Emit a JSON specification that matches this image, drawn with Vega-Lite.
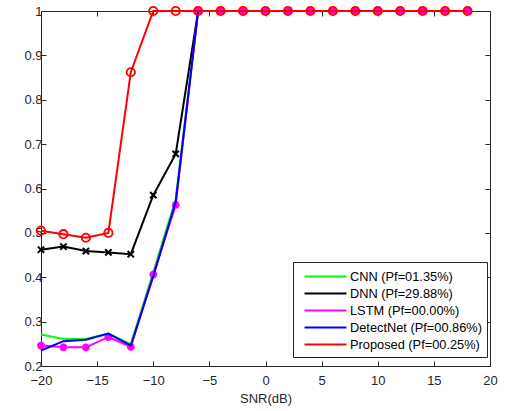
{
  "$schema": "https://vega.github.io/schema/vega-lite/v6.json",
  "width": 449,
  "height": 355,
  "padding": {"left": 5, "top": 2, "right": 15, "bottom": 2},
  "background": "white",
  "config": {
    "font": "Liberation Sans",
    "view": {"stroke": "#262626", "strokeWidth": 1},
    "axis": {"grid": false, "labelFont": "Liberation Sans", "titleFont": "Liberation Sans", "labelFontSize": 13, "titleFontSize": 13, "labelColor": "#262626", "titleColor": "#262626", "domainColor": "#262626", "tickColor": "#262626", "titleFontWeight": "normal", "labelFlush": false, "labelOverlap": false}
  },
  "data": {"values": [
    {"series": "CNN", "snr": -20, "pd": 0.271}, {"series": "CNN", "snr": -18, "pd": 0.261}, {"series": "CNN", "snr": -16, "pd": 0.261}, {"series": "CNN", "snr": -14, "pd": 0.273}, {"series": "CNN", "snr": -12, "pd": 0.249}, {"series": "CNN", "snr": -10, "pd": 0.412}, {"series": "CNN", "snr": -8, "pd": 0.576}, {"series": "CNN", "snr": -6, "pd": 1}, {"series": "CNN", "snr": -4, "pd": 1}, {"series": "CNN", "snr": -2, "pd": 1}, {"series": "CNN", "snr": 0, "pd": 1}, {"series": "CNN", "snr": 2, "pd": 1}, {"series": "CNN", "snr": 4, "pd": 1}, {"series": "CNN", "snr": 6, "pd": 1}, {"series": "CNN", "snr": 8, "pd": 1}, {"series": "CNN", "snr": 10, "pd": 1}, {"series": "CNN", "snr": 12, "pd": 1}, {"series": "CNN", "snr": 14, "pd": 1}, {"series": "CNN", "snr": 16, "pd": 1}, {"series": "CNN", "snr": 18, "pd": 1},
    {"series": "DNN", "snr": -20, "pd": 0.462}, {"series": "DNN", "snr": -18, "pd": 0.469}, {"series": "DNN", "snr": -16, "pd": 0.459}, {"series": "DNN", "snr": -14, "pd": 0.456}, {"series": "DNN", "snr": -12, "pd": 0.452}, {"series": "DNN", "snr": -10, "pd": 0.585}, {"series": "DNN", "snr": -8, "pd": 0.678}, {"series": "DNN", "snr": -6, "pd": 1}, {"series": "DNN", "snr": -4, "pd": 1}, {"series": "DNN", "snr": -2, "pd": 1}, {"series": "DNN", "snr": 0, "pd": 1}, {"series": "DNN", "snr": 2, "pd": 1}, {"series": "DNN", "snr": 4, "pd": 1}, {"series": "DNN", "snr": 6, "pd": 1}, {"series": "DNN", "snr": 8, "pd": 1}, {"series": "DNN", "snr": 10, "pd": 1}, {"series": "DNN", "snr": 12, "pd": 1}, {"series": "DNN", "snr": 14, "pd": 1}, {"series": "DNN", "snr": 16, "pd": 1}, {"series": "DNN", "snr": 18, "pd": 1},
    {"series": "LSTM", "snr": -20, "pd": 0.246}, {"series": "LSTM", "snr": -18, "pd": 0.242}, {"series": "LSTM", "snr": -16, "pd": 0.242}, {"series": "LSTM", "snr": -14, "pd": 0.265}, {"series": "LSTM", "snr": -12, "pd": 0.243}, {"series": "LSTM", "snr": -10, "pd": 0.406}, {"series": "LSTM", "snr": -8, "pd": 0.563}, {"series": "LSTM", "snr": -6, "pd": 1}, {"series": "LSTM", "snr": -4, "pd": 1}, {"series": "LSTM", "snr": -2, "pd": 1}, {"series": "LSTM", "snr": 0, "pd": 1}, {"series": "LSTM", "snr": 2, "pd": 1}, {"series": "LSTM", "snr": 4, "pd": 1}, {"series": "LSTM", "snr": 6, "pd": 1}, {"series": "LSTM", "snr": 8, "pd": 1}, {"series": "LSTM", "snr": 10, "pd": 1}, {"series": "LSTM", "snr": 12, "pd": 1}, {"series": "LSTM", "snr": 14, "pd": 1}, {"series": "LSTM", "snr": 16, "pd": 1}, {"series": "LSTM", "snr": 18, "pd": 1},
    {"series": "DetectNet", "snr": -20, "pd": 0.235}, {"series": "DetectNet", "snr": -18, "pd": 0.256}, {"series": "DetectNet", "snr": -16, "pd": 0.259}, {"series": "DetectNet", "snr": -14, "pd": 0.273}, {"series": "DetectNet", "snr": -12, "pd": 0.246}, {"series": "DetectNet", "snr": -10, "pd": 0.402}, {"series": "DetectNet", "snr": -8, "pd": 0.57}, {"series": "DetectNet", "snr": -6, "pd": 1}, {"series": "DetectNet", "snr": -4, "pd": 1}, {"series": "DetectNet", "snr": -2, "pd": 1}, {"series": "DetectNet", "snr": 0, "pd": 1}, {"series": "DetectNet", "snr": 2, "pd": 1}, {"series": "DetectNet", "snr": 4, "pd": 1}, {"series": "DetectNet", "snr": 6, "pd": 1}, {"series": "DetectNet", "snr": 8, "pd": 1}, {"series": "DetectNet", "snr": 10, "pd": 1}, {"series": "DetectNet", "snr": 12, "pd": 1}, {"series": "DetectNet", "snr": 14, "pd": 1}, {"series": "DetectNet", "snr": 16, "pd": 1}, {"series": "DetectNet", "snr": 18, "pd": 1},
    {"series": "Proposed", "snr": -20, "pd": 0.505}, {"series": "Proposed", "snr": -18, "pd": 0.497}, {"series": "Proposed", "snr": -16, "pd": 0.489}, {"series": "Proposed", "snr": -14, "pd": 0.5}, {"series": "Proposed", "snr": -12, "pd": 0.862}, {"series": "Proposed", "snr": -10, "pd": 1}, {"series": "Proposed", "snr": -8, "pd": 1}, {"series": "Proposed", "snr": -6, "pd": 1}, {"series": "Proposed", "snr": -4, "pd": 1}, {"series": "Proposed", "snr": -2, "pd": 1}, {"series": "Proposed", "snr": 0, "pd": 1}, {"series": "Proposed", "snr": 2, "pd": 1}, {"series": "Proposed", "snr": 4, "pd": 1}, {"series": "Proposed", "snr": 6, "pd": 1}, {"series": "Proposed", "snr": 8, "pd": 1}, {"series": "Proposed", "snr": 10, "pd": 1}, {"series": "Proposed", "snr": 12, "pd": 1}, {"series": "Proposed", "snr": 14, "pd": 1}, {"series": "Proposed", "snr": 16, "pd": 1}, {"series": "Proposed", "snr": 18, "pd": 1}
  ]},
  "encoding": {
    "x": {"field": "snr", "type": "quantitative", "scale": {"domain": [-20, 20], "nice": false}, "axis": null},
    "y": {"field": "pd", "type": "quantitative", "scale": {"domain": [0.2, 1], "nice": false}, "axis": null}
  },
  "layer": [
    {
      "mark": {"type": "point", "opacity": 0},
      "encoding": {
        "x": {"field": "snr", "type": "quantitative", "axis": {"orient": "bottom", "values": [-20, -15, -10, -5, 0, 5, 10, 15, 20], "tickSize": -5, "labelPadding": 13, "title": "SNR(dB)", "titlePadding": 5, "domain": false}},
        "y": {"field": "pd", "type": "quantitative", "axis": {"orient": "left", "values": [0.2, 0.3, 0.4, 0.5, 0.6, 0.7, 0.8, 0.9, 1], "format": "~g", "tickSize": -5, "labelPadding": 4, "title": null, "domain": false, "minExtent": 36, "maxExtent": 36}}
      }
    },
    {
      "mark": {"type": "point", "opacity": 0},
      "encoding": {
        "x": {"field": "snr", "type": "quantitative", "axis": {"orient": "top", "values": [-20, -15, -10, -5, 0, 5, 10, 15, 20], "tickSize": -5, "labels": false, "title": null, "domain": false, "minExtent": 0, "maxExtent": 0}},
        "y": {"field": "pd", "type": "quantitative", "axis": {"orient": "right", "values": [0.2, 0.3, 0.4, 0.5, 0.6, 0.7, 0.8, 0.9, 1], "tickSize": -5, "labels": false, "title": null, "domain": false, "minExtent": 0, "maxExtent": 0}}
      }
    },
    {
      "transform": [{"filter": "datum.series === 'CNN'"}],
      "mark": {"type": "line", "strokeWidth": 2},
      "encoding": {"color": {"field": "series", "type": "nominal", "scale": {"domain": ["CNN", "DNN", "LSTM", "DetectNet", "Proposed"], "range": ["#00FF00", "#000000", "#FF00FF", "#0000FF", "#FF0000"]}, "legend": {"orient": "none", "legendX": 252, "legendY": 251, "title": null, "symbolType": "M-2.5,0L2.5,0", "symbolSize": 282, "symbolOffset": 18, "labelOffset": 15, "symbolStrokeWidth": 2, "labelFontSize": 12.8, "labelColor": "#000000", "labelFont": "Liberation Sans", "fillColor": "white", "strokeColor": "#262626", "padding": 5, "rowPadding": 0, "labelExpr": "datum.label === 'CNN' ? 'CNN (Pf=01.35%)' : datum.label === 'DNN' ? 'DNN (Pf=29.88%)' : datum.label === 'LSTM' ? 'LSTM (Pf=00.00%)' : datum.label === 'DetectNet' ? 'DetectNet (Pf=00.86%)' : 'Proposed (Pf=00.25%)'"}}}
    },
    {
      "transform": [{"filter": "datum.series === 'DNN'"}],
      "mark": {"type": "line", "strokeWidth": 2},
      "encoding": {"color": {"field": "series", "type": "nominal"}}
    },
    {
      "transform": [{"filter": "datum.series === 'DNN'"}],
      "mark": {"type": "point", "shape": "M-1,-1L1,1M-1,1L1,-1", "filled": false, "stroke": "#000000", "strokeWidth": 2, "size": 40, "opacity": 1}
    },
    {
      "transform": [{"filter": "datum.series === 'LSTM'"}],
      "mark": {"type": "line", "strokeWidth": 2},
      "encoding": {"color": {"field": "series", "type": "nominal"}}
    },
    {
      "transform": [{"filter": "datum.series === 'LSTM'"}],
      "mark": {"type": "point", "shape": "M-1,0L1,0M0,-1L0,1M-0.7,-0.7L0.7,0.7M-0.7,0.7L0.7,-0.7", "filled": false, "stroke": "#FF00FF", "strokeWidth": 2.5, "size": 60, "opacity": 1}
    },
    {
      "transform": [{"filter": "datum.series === 'DetectNet'"}],
      "mark": {"type": "line", "strokeWidth": 2},
      "encoding": {"color": {"field": "series", "type": "nominal"}}
    },
    {
      "transform": [{"filter": "datum.series === 'Proposed'"}],
      "mark": {"type": "line", "strokeWidth": 2},
      "encoding": {"color": {"field": "series", "type": "nominal"}}
    },
    {
      "transform": [{"filter": "datum.series === 'Proposed'"}],
      "mark": {"type": "point", "shape": "circle", "filled": false, "stroke": "#FF0000", "strokeWidth": 1.8, "size": 70, "opacity": 1}
    }
  ],
  "resolve": {"axis": {"x": "independent", "y": "independent"}}
}
